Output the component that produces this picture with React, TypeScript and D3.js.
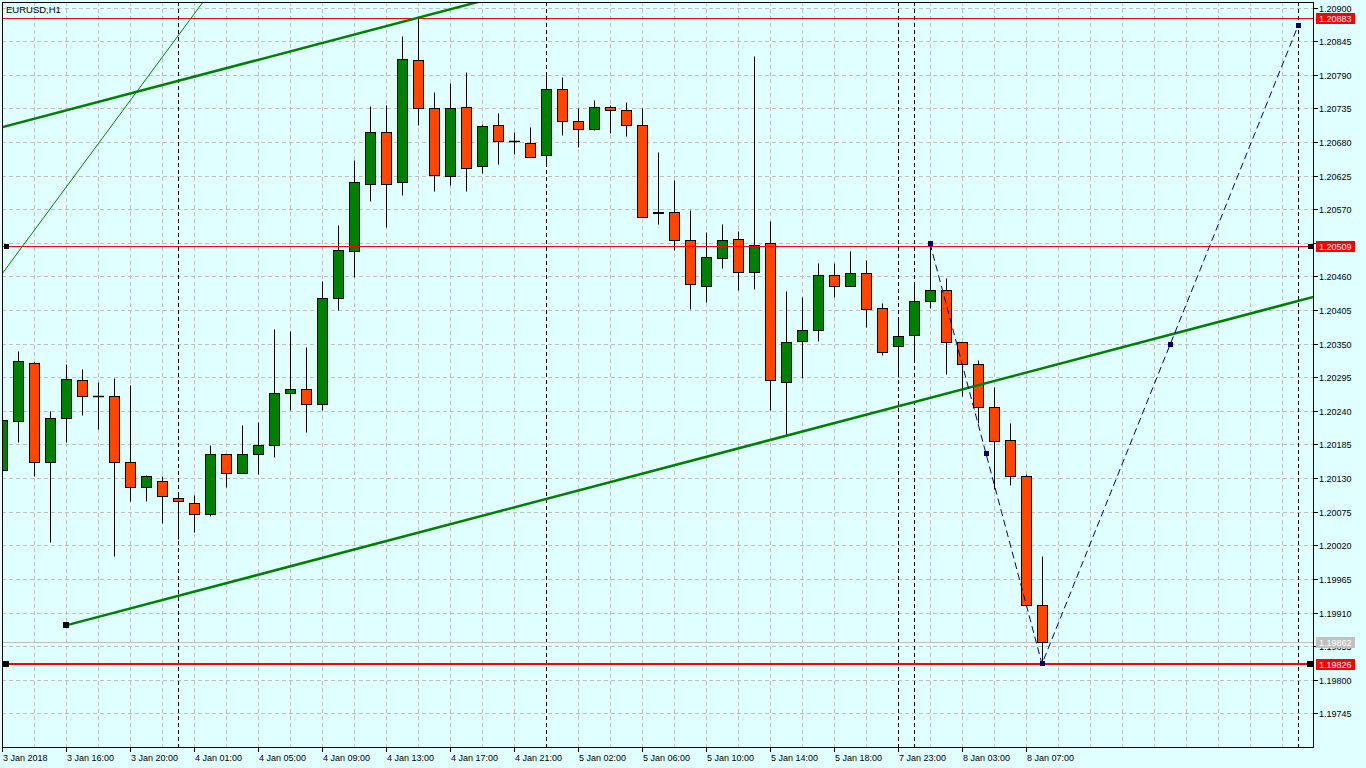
import React, { useEffect, useRef } from 'react';
import * as d3 from 'd3';

const symbolTitle = 'EURUSD,H1';

// H1 candles, one per bar, left to right
const opens = [
  1.20143, 1.20224, 1.20319, 1.20157, 1.20228, 1.20290, 1.20265, 1.20264, 1.20156, 1.20116,
  1.20125, 1.20098, 1.20090, 1.20071, 1.20169, 1.20139, 1.20170, 1.20184, 1.20270, 1.20275,
  1.20251, 1.20424, 1.20502, 1.20612, 1.20697, 1.20614, 1.20814, 1.20735, 1.20624, 1.20737,
  1.20640, 1.20707, 1.20682, 1.20679, 1.20658, 1.20766, 1.20715, 1.20701, 1.20737, 1.20732,
  1.20707, 1.20563, 1.20566, 1.20519, 1.20445, 1.20490, 1.20521, 1.20468, 1.20514, 1.20288,
  1.20354, 1.20373, 1.20462, 1.20445, 1.20465, 1.20409, 1.20346, 1.20364, 1.20419, 1.20437,
  1.20352, 1.20316, 1.20246, 1.20192, 1.20134, 1.19922,
];
const highs = [
  1.20226, 1.20338, 1.20320, 1.20239, 1.20317, 1.20308, 1.20287, 1.20293, 1.20282, 1.20135,
  1.20133, 1.20107, 1.20102, 1.20184, 1.20170, 1.20217, 1.20221, 1.20374, 1.20371, 1.20344,
  1.20452, 1.20544, 1.20650, 1.20739, 1.20740, 1.20853, 1.20883, 1.20762, 1.20776, 1.20794,
  1.20709, 1.20727, 1.20696, 1.20704, 1.20791, 1.20786, 1.20735, 1.20749, 1.20740, 1.20745,
  1.20735, 1.20663, 1.20617, 1.20569, 1.20533, 1.20546, 1.20534, 1.20821, 1.20551, 1.20436,
  1.20426, 1.20482, 1.20482, 1.20501, 1.20487, 1.20416, 1.20388, 1.20447, 1.20514, 1.20458,
  1.20352, 1.20323, 1.20279, 1.20220, 1.20136, 1.20002,
];
const lows = [
  1.20142, 1.20189, 1.20133, 1.20026, 1.20189, 1.20234, 1.20211, 1.20003, 1.20092, 1.20092,
  1.20056, 1.20030, 1.20041, 1.20068, 1.20116, 1.20138, 1.20137, 1.20165, 1.20241, 1.20206,
  1.20241, 1.20405, 1.20459, 1.20584, 1.20541, 1.20594, 1.20707, 1.20599, 1.20610, 1.20600,
  1.20630, 1.20644, 1.20661, 1.20656, 1.20640, 1.20692, 1.20672, 1.20700, 1.20695, 1.20689,
  1.20558, 1.20545, 1.20503, 1.20407, 1.20418, 1.20473, 1.20437, 1.20439, 1.20242, 1.20200,
  1.20293, 1.20354, 1.20427, 1.20445, 1.20378, 1.20332, 1.20295, 1.20323, 1.20409, 1.20300,
  1.20264, 1.20220, 1.20112, 1.20118, 1.19922, 1.19826,
];
const closes = [
  1.20225, 1.20321, 1.20156, 1.20229, 1.20292, 1.20264, 1.20265, 1.20156, 1.20116, 1.20134,
  1.20100, 1.20092, 1.20071, 1.20170, 1.20138, 1.20170, 1.20184, 1.20270, 1.20275, 1.20251,
  1.20424, 1.20504, 1.20614, 1.20697, 1.20612, 1.20815, 1.20735, 1.20626, 1.20735, 1.20638,
  1.20706, 1.20681, 1.20682, 1.20656, 1.20766, 1.20715, 1.20702, 1.20738, 1.20733, 1.20707,
  1.20558, 1.20566, 1.20519, 1.20447, 1.20491, 1.20519, 1.20467, 1.20511, 1.20290, 1.20352,
  1.20373, 1.20463, 1.20444, 1.20465, 1.20406, 1.20337, 1.20362, 1.20419, 1.20437, 1.20352,
  1.20316, 1.20246, 1.20190, 1.20133, 1.19922, 1.19862,
];

// time axis
const timeLabels = [
  '3 Jan 2018', '3 Jan 16:00', '3 Jan 20:00', '4 Jan 01:00', '4 Jan 05:00', '4 Jan 09:00',
  '4 Jan 13:00', '4 Jan 17:00', '4 Jan 21:00', '5 Jan 02:00', '5 Jan 06:00', '5 Jan 10:00',
  '5 Jan 14:00', '5 Jan 18:00', '7 Jan 23:00', '8 Jan 03:00', '8 Jan 07:00',
];
const timeLabelBars = [0, 4, 8, 12, 16, 20, 24, 28, 32, 36, 40, 44, 48, 52, 56, 60, 64];
const separatorBars = [11, 34, 56, 57, 81];

// price axis
const priceTicks = [
  1.19745, 1.19800, 1.19855, 1.19910, 1.19965, 1.20020, 1.20075, 1.20130, 1.20185, 1.20240,
  1.20295, 1.20350, 1.20405, 1.20460, 1.20515, 1.20570, 1.20625, 1.20680, 1.20735, 1.20790,
  1.20845, 1.20900,
];
const bidPrice = 1.19862;

// objects
const levelPrices = [1.20883, 1.20509, 1.19826];
const levelWidths = [1, 1, 2];
const levelSelected = [false, true, true];
const channelBars = [4, 60];
const channelPrices = [1.19889, 1.20275];
const channelUpperBar = 0;
const channelUpperPrice = 1.20704;
const thinLineBars = [0, 12];
const thinLinePrices = [1.20464, 1.20889];
const zigzagBars = [58, 65, 81];
const zigzagPrices = [1.20514, 1.19826, 1.20870];

const W = 1366;
const H = 768;
const left = 2;
const top = 2;
const right = 1313;
const bottom = 747;
const FONT = "'Liberation Sans', Arial, sans-serif";

const App = () => {
  const ref = useRef<SVGSVGElement | null>(null);

  useEffect(() => {
    document.body.style.margin = '0';
    if (!ref.current) return;
    const svg = d3.select(ref.current);
    svg.selectAll('*').remove();

    const x = d3.scaleLinear().domain([0, 81]).range([2, 1298]);
    const y = d3.scaleLinear().domain([1.1969, 1.20909]).range([bottom, top]);
    const cr = (v: number) => Math.round(v) + 0.5;

    svg.append('rect').attr('width', W).attr('height', H).attr('fill', '#E0FFFF');

    svg.append('defs').append('clipPath').attr('id', 'plot-clip')
      .append('rect').attr('x', left).attr('y', top)
      .attr('width', right - left).attr('height', bottom - top);

    const plot = svg.append('g').attr('clip-path', 'url(#plot-clip)');

    // grid
    const gridBars = d3.range(2, 82, 2);
    plot.selectAll('.vgrid').data(gridBars).enter().append('line')
      .attr('x1', d => cr(x(d))).attr('x2', d => cr(x(d)))
      .attr('y1', top).attr('y2', bottom)
      .attr('stroke', '#c0c0c0').attr('stroke-dasharray', '4,3');
    plot.selectAll('.hgrid').data(priceTicks).enter().append('line')
      .attr('x1', left).attr('x2', right)
      .attr('y1', d => cr(y(d))).attr('y2', d => cr(y(d)))
      .attr('stroke', '#c0c0c0').attr('stroke-dasharray', '4,3');

    // period separators
    plot.selectAll('.sep').data(separatorBars).enter().append('line')
      .attr('x1', d => cr(x(d))).attr('x2', d => cr(x(d)))
      .attr('y1', top).attr('y2', bottom)
      .attr('stroke', '#000').attr('stroke-dasharray', '4,3');

    // bid line
    plot.append('line')
      .attr('x1', left).attr('x2', right)
      .attr('y1', cr(y(bidPrice))).attr('y2', cr(y(bidPrice)))
      .attr('stroke', '#c0c0c0');

    // candles
    const idx = d3.range(opens.length);
    const candles = plot.selectAll('.candle').data(idx).enter().append('g');
    candles.append('line')
      .attr('x1', i => Math.round(x(i)) + 0.5).attr('x2', i => Math.round(x(i)) + 0.5)
      .attr('y1', i => cr(y(highs[i]))).attr('y2', i => cr(y(lows[i])))
      .attr('stroke', '#000');
    candles.each(function (i) {
      const g = d3.select(this);
      const cx = Math.round(x(i));
      const yt = cr(y(Math.max(opens[i], closes[i])));
      const yb = cr(y(Math.min(opens[i], closes[i])));
      if (yb - yt < 1) {
        g.append('line').attr('x1', cx - 5).attr('x2', cx + 6)
          .attr('y1', yt).attr('y2', yt).attr('stroke', '#000').attr('stroke-width', 1.5);
      } else {
        g.append('rect')
          .attr('x', cx - 4.5).attr('width', 10)
          .attr('y', yt).attr('height', yb - yt)
          .attr('fill', closes[i] > opens[i] ? '#008000' : '#FF4500')
          .attr('stroke', '#000');
      }
    });

    // horizontal levels
    levelPrices.forEach((p, k) => {
      const yy = levelWidths[k] > 1 ? Math.round(y(p)) : cr(y(p));
      plot.append('line').attr('x1', left).attr('x2', right)
        .attr('y1', yy).attr('y2', yy)
        .attr('stroke', '#FF0000').attr('stroke-width', levelWidths[k]);
    });

    // equidistant channel
    const slope = (channelPrices[1] - channelPrices[0]) / (channelBars[1] - channelBars[0]);
    const lowerEnd = 90;
    plot.append('line')
      .attr('x1', x(channelBars[0])).attr('y1', y(channelPrices[0]))
      .attr('x2', x(lowerEnd)).attr('y2', y(channelPrices[0] + slope * (lowerEnd - channelBars[0])))
      .attr('stroke', '#008000').attr('stroke-width', 2.5);
    plot.append('line')
      .attr('x1', x(-2)).attr('y1', y(channelUpperPrice + slope * (-2 - channelUpperBar)))
      .attr('x2', x(lowerEnd)).attr('y2', y(channelUpperPrice + slope * (lowerEnd - channelUpperBar)))
      .attr('stroke', '#008000').attr('stroke-width', 2.5);

    // thin trendline
    const tSlope = (thinLinePrices[1] - thinLinePrices[0]) / (thinLineBars[1] - thinLineBars[0]);
    plot.append('line')
      .attr('x1', x(-2)).attr('y1', y(thinLinePrices[0] + tSlope * (-2 - thinLineBars[0])))
      .attr('x2', x(20)).attr('y2', y(thinLinePrices[0] + tSlope * (20 - thinLineBars[0])))
      .attr('stroke', '#008000').attr('stroke-width', 1);

    // zigzag
    const zz: [number, number][] = zigzagBars.map((b, k) => [x(b), y(zigzagPrices[k])]);
    plot.append('path')
      .attr('d', d3.line()(zz))
      .attr('fill', 'none').attr('stroke', '#000080').attr('stroke-dasharray', '7,4');

    // selection markers
    const marker = (cx: number, cy: number, s: number, fill: string, stroke = 'none') => {
      plot.append('rect')
        .attr('x', Math.round(cx - s / 2)).attr('y', Math.round(cy - s / 2))
        .attr('width', s).attr('height', s).attr('fill', fill).attr('stroke', stroke);
    };
    const zzMarks = [...zz];
    for (let k = 0; k < zz.length - 1; k++) {
      zzMarks.push([(zz[k][0] + zz[k + 1][0]) / 2, (zz[k][1] + zz[k + 1][1]) / 2]);
    }
    zzMarks.forEach(([mx, my]) => marker(mx, my, 5, '#000060'));
    marker(x(channelBars[0]), y(channelPrices[0]), 6, '#000');
    levelPrices.forEach((p, k) => {
      if (!levelSelected[k]) return;
      const s = levelWidths[k] > 1 ? 6 : 5;
      marker(6, y(p), s, '#000');
      marker(1310, y(p), s, '#000');
    });

    // frame
    svg.append('rect')
      .attr('x', left + 0.5).attr('y', top + 0.5)
      .attr('width', right - left).attr('height', bottom - top)
      .attr('fill', 'none').attr('stroke', '#000');

    // price axis
    const pa = svg.append('g').attr('font-family', FONT).attr('font-size', 9);
    pa.selectAll('.pt').data(priceTicks).enter().append('line')
      .attr('x1', right).attr('x2', right + 5)
      .attr('y1', d => cr(y(d))).attr('y2', d => cr(y(d)))
      .attr('stroke', '#000');
    pa.selectAll('.pl').data(priceTicks).enter().append('text')
      .attr('x', right + 6).attr('y', d => Math.round(y(d)) + 4)
      .attr('fill', '#000')
      .text(d => d.toFixed(5));

    const priceBox = (p: number, bg: string) => {
      const yy = Math.round(y(p));
      pa.append('rect').attr('x', 1316).attr('y', yy - 5).attr('width', 39).attr('height', 11)
        .attr('fill', bg);
      pa.append('text').attr('x', 1319).attr('y', yy + 4).attr('fill', '#fff').text(p.toFixed(5));
    };
    priceBox(bidPrice, '#c0c0c0');
    levelPrices.forEach(p => priceBox(p, '#FF0000'));

    // time axis
    const ta = svg.append('g').attr('font-family', FONT).attr('font-size', 9);
    ta.selectAll('.tt').data(timeLabelBars).enter().append('line')
      .attr('x1', d => cr(x(d))).attr('x2', d => cr(x(d)))
      .attr('y1', bottom).attr('y2', bottom + 5)
      .attr('stroke', '#000');
    ta.selectAll('.tl').data(timeLabels).enter().append('text')
      .attr('x', (d, k) => Math.round(x(timeLabelBars[k])) + 1)
      .attr('y', 761)
      .attr('fill', '#000')
      .text(d => d);

    // title
    svg.append('text')
      .attr('x', 6).attr('y', 13)
      .attr('font-family', FONT).attr('font-size', 9.5)
      .attr('fill', '#000')
      .text(symbolTitle);
  }, []);

  return (
    <svg ref={ref} width={W} height={H} style={{ position: 'absolute', left: 0, top: 0, display: 'block' }} />
  );
};

export default App;
